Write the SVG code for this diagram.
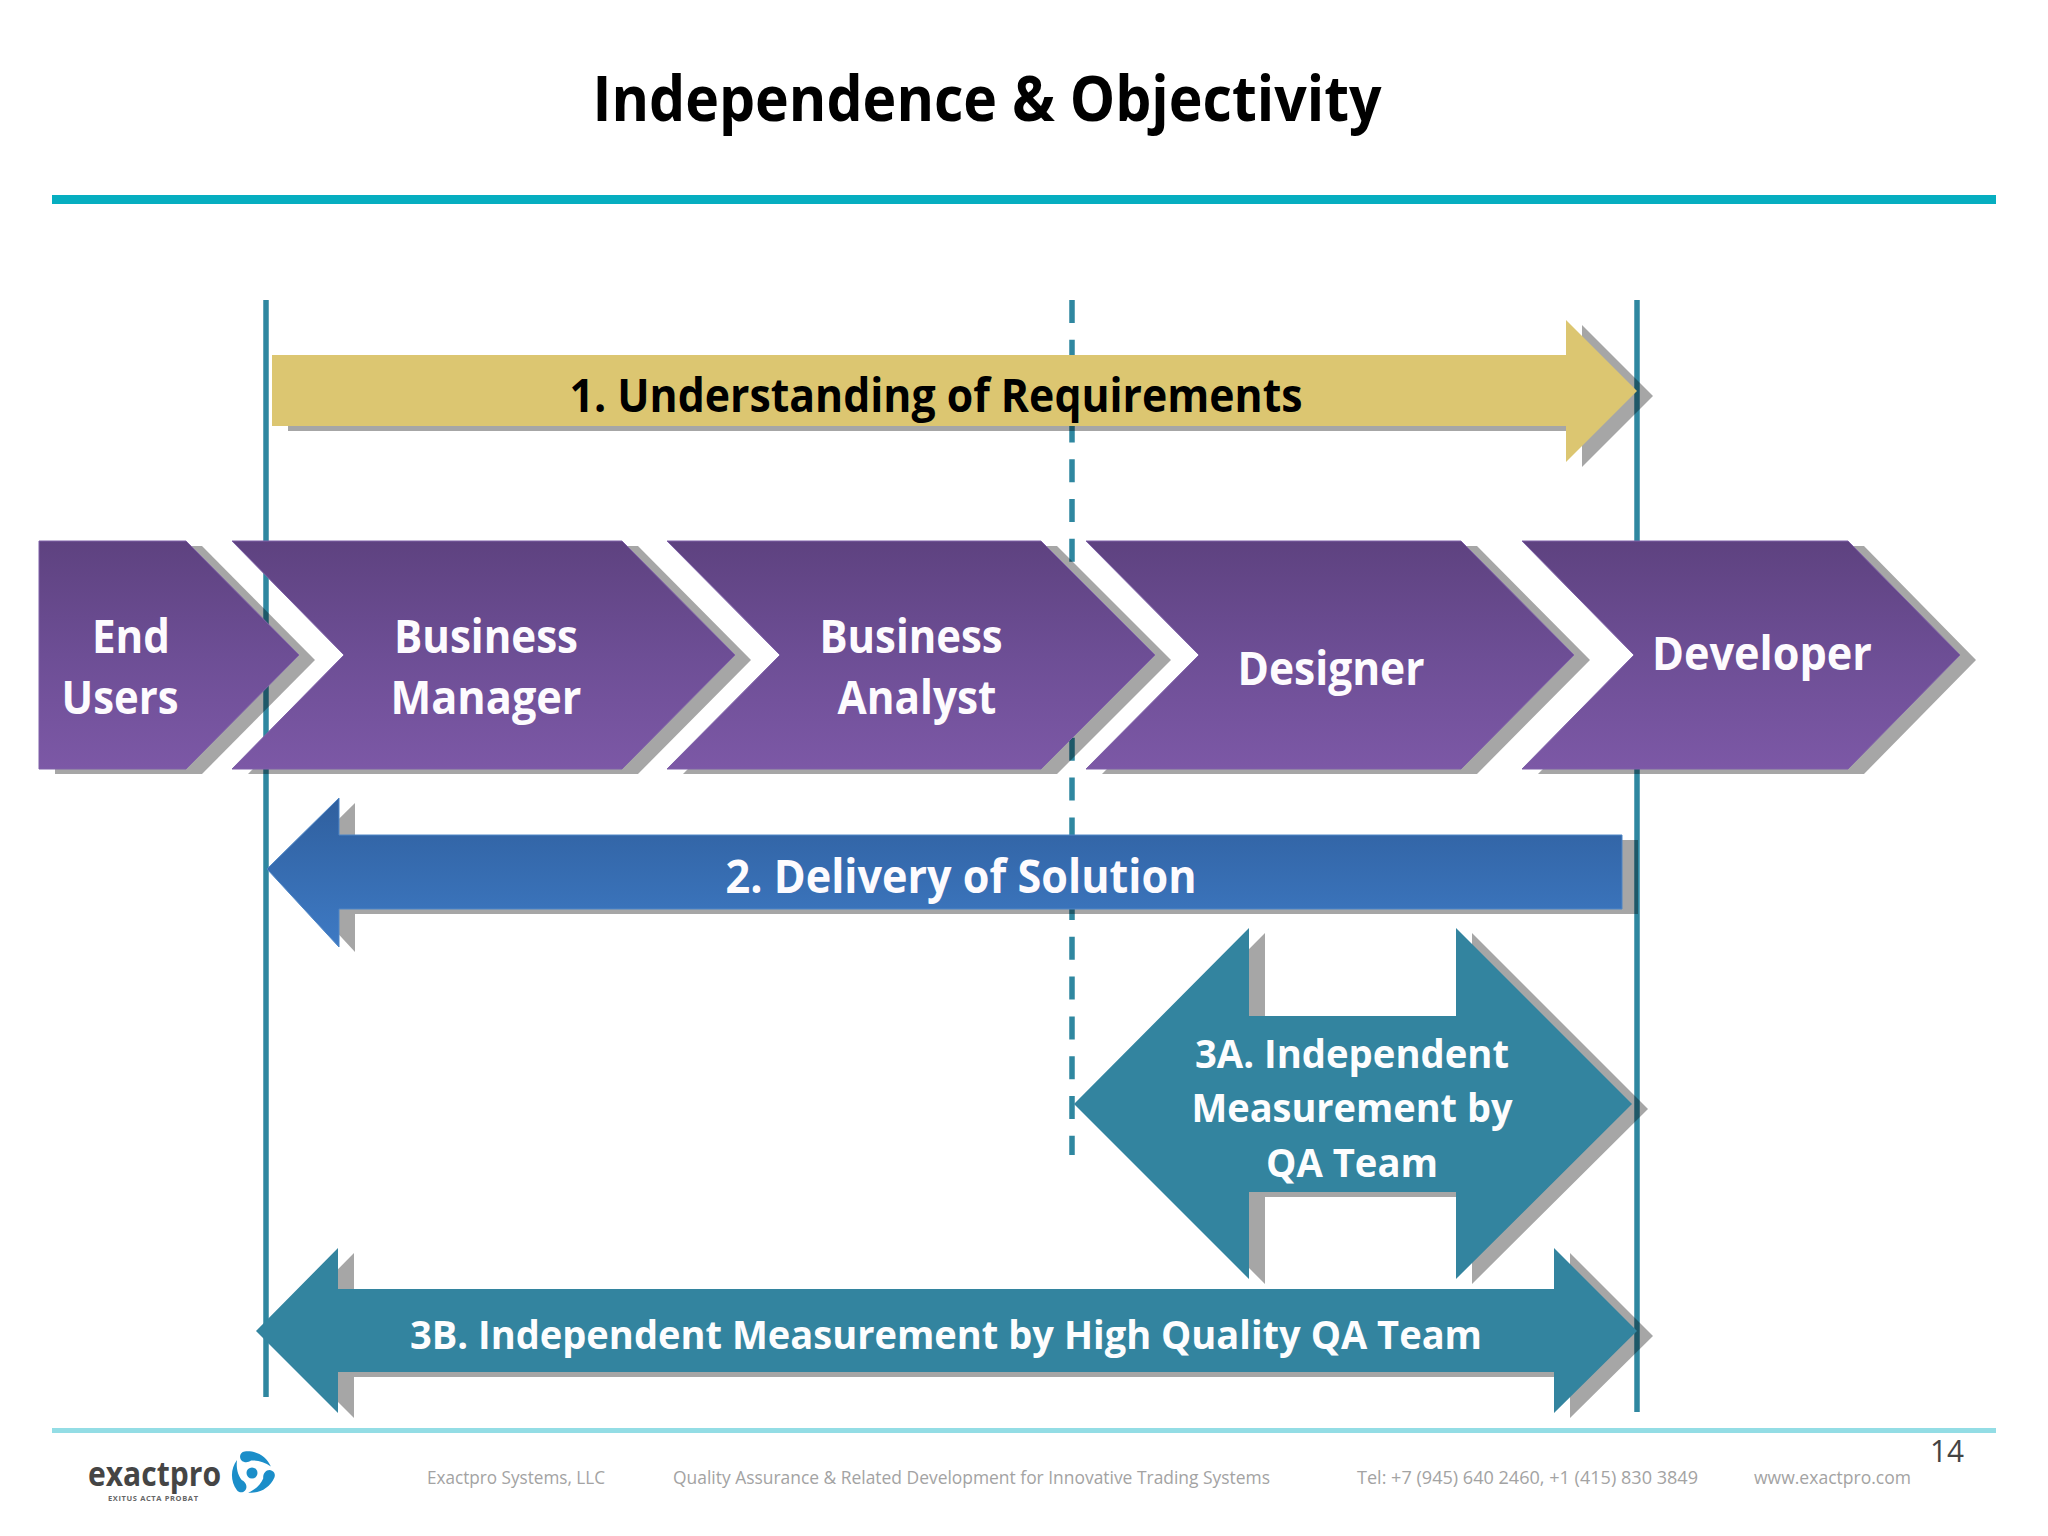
<svg xmlns="http://www.w3.org/2000/svg" xmlns:xlink="http://www.w3.org/1999/xlink" width="2048" height="1536" viewBox="0 0 2048 1536">
<style>
text{font-family:"Open Sans","Noto Sans","Liberation Sans",sans-serif}
.sh{fill:#000;opacity:.35}
.lbl{font-weight:700;fill:#fdfbfe;text-anchor:middle;font-size:47px}
.lbl3{font-weight:700;fill:#fdfdfe;text-anchor:middle;font-size:40px}
.ft{fill:#a3a3a3;font-size:18px}
.purple{fill:url(#gp);stroke:#7f61a8;stroke-width:1}
.blue{fill:url(#gb);stroke:#4f86c6;stroke-width:1}
.teal{fill:#33849f}
.gold{fill:#dcc671}
.guide{stroke:#2f87a0;stroke-width:5.5;fill:none}
</style>
<defs>
<linearGradient id="gp" x1="0" y1="0" x2="0" y2="1"><stop offset="0" stop-color="#5e4280"/><stop offset=".5" stop-color="#6d4e95"/><stop offset="1" stop-color="#7c58a6"/></linearGradient>
<linearGradient id="gb" x1="0" y1="0" x2="0" y2="1"><stop offset="0" stop-color="#2f5f9e"/><stop offset="1" stop-color="#3e7ac4"/></linearGradient>
<polygon id="s1" points="39,541 186,541 299,655 186,769 39,769"/>
<polygon id="s2" points="232,541 622,541 735,655 622,769 232,769 344,655"/>
<polygon id="s3" points="667,541 1041,541 1155,655 1041,769 667,769 780,655"/>
<polygon id="s4" points="1086,541 1461,541 1574,655 1461,769 1086,769 1199,655"/>
<polygon id="s5" points="1522,541 1848,541 1960,655 1848,769 1522,769 1634,655"/>
<polygon id="a1" points="272,355 1566,355 1566,320 1637,391 1566,462 1566,426 272,426"/>
<polygon id="a2" points="267,869 339,798 339,835 1622,835 1622,909 339,909 339,947"/>
<polygon id="a3" points="1074,1104 1249,928 1249,1016 1456,1016 1456,928 1632,1104 1456,1279 1456,1192 1249,1192 1249,1279"/>
<polygon id="a4" points="256,1331 338,1248 338,1289 1554,1289 1554,1248 1637,1331 1554,1413 1554,1372 338,1372 338,1413"/>
<path id="blade" d="M-8,-23.5 C4,-25 16,-18 20.5,-7 C14,-12 6,-14.5 -1,-13.5 C-6,-10 -13,-12 -13,-18 C-13,-21 -11,-23 -8,-23.5 Z"/>
</defs>
<rect width="2048" height="1536" fill="#fff"/>
<g id="header">
<text x="987" y="121" text-anchor="middle" font-size="62" font-weight="700" fill="#000" textLength="789" lengthAdjust="spacingAndGlyphs">Independence &amp; Objectivity</text>
<rect x="52" y="195" width="1944" height="9" fill="#06aec0"/>
</g>
<g id="connectors">
<line class="guide" x1="266" y1="300" x2="266" y2="1397"/>
<line class="guide" x1="1637" y1="300" x2="1637" y2="1412"/>
<line class="guide" x1="1072" y1="300" x2="1072" y2="1155" stroke-dasharray="23 16.8"/>
</g>
<g id="node-end-users">
<use href="#s1" class="sh" transform="translate(16,5)"/><use href="#s1" class="purple"/>
<text class="lbl" x="131" y="653" textLength="78" lengthAdjust="spacingAndGlyphs">End</text>
<text class="lbl" x="120" y="714" textLength="117" lengthAdjust="spacingAndGlyphs">Users</text>
</g>
<g id="node-business-manager">
<use href="#s2" class="sh" transform="translate(16,5)"/><use href="#s2" class="purple"/>
<text class="lbl" x="486" y="653" textLength="184" lengthAdjust="spacingAndGlyphs">Business</text>
<text class="lbl" x="486" y="714" textLength="191" lengthAdjust="spacingAndGlyphs">Manager</text>
</g>
<g id="node-business-analyst">
<use href="#s3" class="sh" transform="translate(16,5)"/><use href="#s3" class="purple"/>
<text class="lbl" x="911" y="653" textLength="183" lengthAdjust="spacingAndGlyphs">Business</text>
<text class="lbl" x="917" y="714" textLength="159" lengthAdjust="spacingAndGlyphs">Analyst</text>
</g>
<g id="node-designer">
<use href="#s4" class="sh" transform="translate(16,5)"/><use href="#s4" class="purple"/>
<text class="lbl" x="1331" y="685" textLength="187" lengthAdjust="spacingAndGlyphs">Designer</text>
</g>
<g id="node-developer">
<use href="#s5" class="sh" transform="translate(16,5)"/><use href="#s5" class="purple"/>
<text class="lbl" x="1762" y="670" textLength="220" lengthAdjust="spacingAndGlyphs">Developer</text>
</g>
<g id="node-understanding">
<use href="#a1" class="sh" transform="translate(16,5)"/><use href="#a1" class="gold"/>
<text class="lbl" style="fill:#000" x="936" y="412" textLength="733" lengthAdjust="spacingAndGlyphs">1. Understanding of Requirements</text>
</g>
<g id="node-delivery">
<use href="#a2" class="sh" transform="translate(16,5)"/><use href="#a2" class="blue"/>
<text class="lbl" x="961" y="893" textLength="471" lengthAdjust="spacingAndGlyphs">2. Delivery of Solution</text>
</g>
<g id="node-3a">
<use href="#a3" class="sh" transform="translate(16,5)"/><use href="#a3" class="teal"/>
<text class="lbl3" x="1352" y="1068" textLength="314" lengthAdjust="spacingAndGlyphs">3A. Independent</text>
<text class="lbl3" x="1352" y="1122" textLength="321" lengthAdjust="spacingAndGlyphs">Measurement by</text>
<text class="lbl3" x="1352" y="1177" textLength="172" lengthAdjust="spacingAndGlyphs">QA Team</text>
</g>
<g id="node-3b">
<use href="#a4" class="sh" transform="translate(16,5)"/><use href="#a4" class="teal"/>
<text class="lbl3" x="946" y="1349" textLength="1072" lengthAdjust="spacingAndGlyphs">3B. Independent Measurement by High Quality QA Team</text>
</g>
<g id="footer">
<rect x="52" y="1428" width="1944" height="5" fill="#93dde5"/>
<text x="88" y="1486" font-size="34" font-weight="700" fill="#454545" textLength="133" lengthAdjust="spacingAndGlyphs">exactpro</text>
<text x="108" y="1501" font-size="7.5" font-weight="700" fill="#666" textLength="90" lengthAdjust="spacing">EXITUS ACTA PROBAT</text>
<g id="logo-mark" transform="translate(252,1473) scale(.92)" fill="#1b8ec9">
<circle r="6"/>
<use href="#blade"/>
<use href="#blade" transform="rotate(120)"/>
<use href="#blade" transform="rotate(240)"/>
</g>
<text class="ft" x="427" y="1484" textLength="178" lengthAdjust="spacingAndGlyphs">Exactpro Systems, LLC</text>
<text class="ft" x="673" y="1484" textLength="597" lengthAdjust="spacingAndGlyphs">Quality Assurance &amp; Related Development for Innovative Trading Systems</text>
<text class="ft" x="1357" y="1484" textLength="341" lengthAdjust="spacingAndGlyphs">Tel: +7 (945) 640 2460, +1 (415) 830 3849</text>
<text class="ft" x="1754" y="1484" textLength="157" lengthAdjust="spacingAndGlyphs">www.exactpro.com</text>
<text x="1930" y="1462" font-size="31" fill="#444" textLength="34" lengthAdjust="spacingAndGlyphs">14</text>
</g>
</svg>
